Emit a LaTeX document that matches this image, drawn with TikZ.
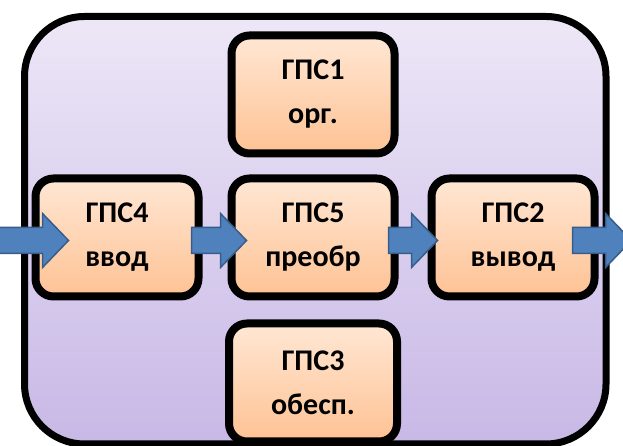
\documentclass[tikz,border=0pt]{standalone}
\usepackage{fontspec}
\setmainfont{Carlito}
\usetikzlibrary{calc, positioning, shadows}
\definecolor{framefill top}{RGB}{237,231,247}
\definecolor{framefill bot}{RGB}{200,184,230}
\definecolor{boxfill top}{RGB}{255,231,212}
\definecolor{boxfill bot}{RGB}{254,194,148}
\definecolor{arrowfill}{RGB}{79,129,189}
\definecolor{arrowline}{RGB}{56,93,138}
\tikzset{
node distance=17pt, % gap between the border lines of two boxes
frame/.style={line width=7pt, rounded corners=60pt, top color=framefill top, bottom color=framefill bot},
gps/.style={draw, line width=8pt, rounded corners=18pt, minimum width=163pt, minimum height=118pt,
  top color=boxfill top, bottom color=boxfill bot, align=center,
  font=\fontsize{30}{44}\selectfont\bfseries,
  drop shadow={opacity=0.25, shadow xshift=1pt, shadow yshift=-3pt}}, % every ГПС box
blockarrow/.style={fill=arrowfill, draw=arrowline, line width=1.5pt, line join=miter},
}
% fat arrow from #1 (tail) to #2 (tip), both at the same height
\newcommand{\blockarrow}[2]{%
  \draw[blockarrow] let \p1=(#1), \p2=(#2) in
    (\x1,\y1+13pt) -- (\x2-26pt,\y1+13pt) -- (\x2-26pt,\y1+27pt) -- (\x2,\y1)
    -- (\x2-26pt,\y1-27pt) -- (\x2-26pt,\y1-13pt) -- (\x1,\y1-13pt) -- cycle;}

\begin{document}
\begin{tikzpicture}
  \useasboundingbox (0,0) rectangle (623pt,446pt);
  \draw[frame] (24.5pt,2pt) rectangle (606pt,429.5pt);

  \node[gps] (g4) at (117pt,208.5pt) {ГПС4\\ввод};
  \node[gps, right=25pt of g4] (g5) {ГПС5\\преобр};
  \node[gps, right=29pt of g5] (g2) {ГПС2\\вывод};
  \node[gps, above=of g5] (g1) {ГПС1\\орг.};
  \node[gps, below=19pt of g5, minimum width=168pt] (g3) {ГПС3\\обесп.};

  \coordinate (in) at ($(g4.west)+(-36pt,-3pt)$);
  \coordinate (out) at ($(g2.east)+(33pt,-3pt)$);

  \blockarrow{in}{$(g4.west)+(37pt,-3pt)$}
  \blockarrow{$(g4.east)+(-11pt,-3pt)$}{$(g5.west)+(19pt,-3pt)$}
  \blockarrow{$(g5.east)+(-10pt,-3pt)$}{$(g2.west)+(10pt,-3pt)$}
  \blockarrow{$(g2.east)+(-26pt,-3pt)$}{out}
\end{tikzpicture}
\end{document}
